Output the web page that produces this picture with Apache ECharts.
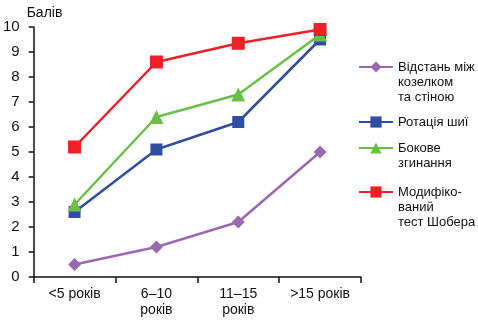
<!DOCTYPE html>
<html><head><meta charset="utf-8">
<script src="https://cdn.jsdelivr.net/npm/echarts@6/dist/echarts.min.js"></script>
<style>html,body{margin:0;padding:0;background:#fff}#c{width:478px;height:325px}</style>
</head><body><div id="c"></div>
<script>
const categories = ['<5 років', '6–10\nроків', '11–15\nроків', '>15 років'];
const yTicks = [0,1,2,3,4,5,6,7,8,9,10];
const names = ['Відстань між\nкозелком\nта стіною', 'Ротація шиї', 'Бокове\nзгинання', 'Модифіко-\nваний\nтест Шобера'];
const distance = [0.5, 1.2, 2.2, 5.0];
const rotation = [2.6, 5.1, 6.2, 9.5];
const lateral = [2.9, 6.4, 7.3, 9.7];
const schober = [5.2, 8.6, 9.35, 9.9];

const FONT = '"Liberation Sans", Arial, sans-serif';
const colors = ['#9a67b1', '#2f4e9f', '#6abf47', '#ec2026'];
const symbols = ['diamond', 'rect', 'triangle', 'rect'];
const sizes = [13, 12, 14, 13];
const dataSets = [distance, rotation, lateral, schober];
const iconCenters = [67, 122, 148, 192];

const chart = echarts.init(document.getElementById('c'));
chart.setOption({
  animation: false,
  textStyle: { fontFamily: FONT },
  grid: { left: 33, right: 117, top: 27, bottom: 48 },
  legend: names.map((n, i) => {
    const nLines = n.split('\n').length;
    const total = 2 * nLines - 1;
    return {
      data: [n],
      formatter: s => '\n'.repeat(nLines - 1) + s,
      left: 358, top: iconCenters[i] - total * 15 / 2, orient: 'vertical',
      itemWidth: 34, itemHeight: 14, itemGap: 0, padding: 0,
      textStyle: { fontFamily: FONT, fontSize: 13, color: '#111', lineHeight: 15 },
      selectedMode: false
    };
  }),
  xAxis: {
    type: 'category', data: categories, boundaryGap: true,
    axisLine: { lineStyle: { color: '#111', width: 1.5 } },
    axisTick: { show: true, interval: 0, length: 6, lineStyle: { color: '#111', width: 1.5 } },
    axisLabel: { interval: 0, color: '#111', fontSize: 14, lineHeight: 16, margin: 9, fontFamily: FONT }
  },
  yAxis: {
    type: 'value', min: 0, max: 10, interval: 1,
    name: 'Балів', nameLocation: 'end', nameGap: 7,
    nameTextStyle: { color: '#111', fontSize: 14, align: 'left', padding: [0, 0, 0, -7], fontFamily: FONT },
    splitLine: { show: false },
    axisLine: { show: true, lineStyle: { color: '#111', width: 1.5 } },
    axisTick: { show: true, length: 5, lineStyle: { color: '#111', width: 1.5 } },
    axisLabel: { color: '#111', fontSize: 15, margin: 14, fontFamily: FONT,
      formatter: v => yTicks.includes(v) ? String(v) : '' }
  },
  series: names.map((n, i) => ({
    name: n, type: 'line', data: dataSets[i],
    symbol: symbols[i], symbolSize: sizes[i],
    lineStyle: { color: colors[i], width: 2.5 },
    itemStyle: { color: colors[i] },
    z: 2 + i
  }))
});
</script></body></html>
